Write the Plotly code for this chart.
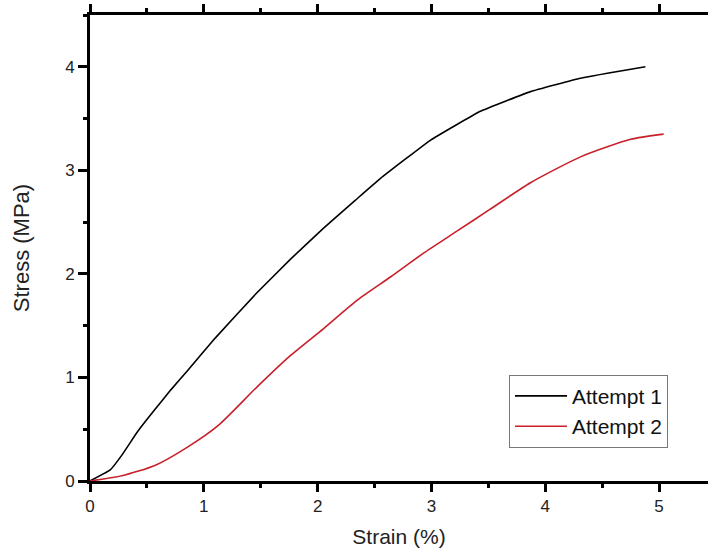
import plotly.graph_objects as go

# Attempt 1 (black)
strain1 = [0.0, 0.18, 0.28, 0.42, 0.57, 0.71, 0.86, 1.1, 1.46, 1.76, 2.05, 2.33, 2.55, 2.99, 3.43, 3.87, 4.31, 4.88]
stress1 = [0.0, 0.11, 0.25, 0.48, 0.69, 0.88, 1.07, 1.38, 1.81, 2.14, 2.44, 2.71, 2.92, 3.29, 3.57, 3.76, 3.89, 4.0]

# Attempt 2 (red)
strain2 = [0.0, 0.28, 0.57, 0.86, 1.13, 1.46, 1.76, 2.05, 2.34, 2.64, 2.93, 3.22, 3.51, 3.87, 4.31, 4.75, 5.04]
stress2 = [0.0, 0.05, 0.15, 0.33, 0.54, 0.90, 1.21, 1.47, 1.74, 1.97, 2.20, 2.41, 2.62, 2.88, 3.13, 3.30, 3.35]

series_names = ["Attempt 1", "Attempt 2"]
x_ticks = [0, 1, 2, 3, 4, 5]
y_ticks = [0, 1, 2, 3, 4]

fig = go.Figure()
fig.add_trace(go.Scatter(x=strain1, y=stress1, mode="lines", name=series_names[0],
                         line=dict(color="black", width=1.6, shape="spline", smoothing=0.3)))
fig.add_trace(go.Scatter(x=strain2, y=stress2, mode="lines", name=series_names[1],
                         line=dict(color="#c8202a", width=1.6, shape="spline", smoothing=0.6)))

font_family = "Liberation Sans, Arial, sans-serif"

fig.update_layout(
    width=708, height=556,
    margin=dict(l=90, r=0, t=15, b=75),
    plot_bgcolor="white", paper_bgcolor="white",
    font=dict(family=font_family, color="#222", size=17),
    showlegend=True,
    legend=dict(x=0.678, y=0.228, xanchor="left", yanchor="top",
                bordercolor="#777", borderwidth=1, bgcolor="white",
                font=dict(size=21, color="#111"), tracegroupgap=0,
                itemwidth=52),
    xaxis=dict(
        range=[0, 5.43], tickvals=x_ticks, ticktext=[str(v) for v in x_ticks],
        showgrid=False, zeroline=False,
        showline=True, linecolor="black", linewidth=3, mirror="ticks",
        ticks="outside", ticklen=8, tickwidth=3, tickcolor="black",
        minor=dict(dtick=0.5, tick0=0, ticks="outside", ticklen=4, tickwidth=3, tickcolor="black"),
        title=dict(text="Strain (%)", font=dict(size=21), standoff=14),
        tickfont=dict(size=17),
    ),
    yaxis=dict(
        range=[0, 4.5], tickvals=y_ticks, ticktext=[str(v) for v in y_ticks],
        showgrid=False, zeroline=False,
        showline=True, linecolor="black", linewidth=3,
        ticks="outside", ticklen=9, tickwidth=3, tickcolor="black",
        minor=dict(dtick=0.5, tick0=0, ticks="outside", ticklen=4, tickwidth=3, tickcolor="black"),
        title=dict(text="Stress (MPa)", font=dict(size=22), standoff=30),
        tickfont=dict(size=17),
    ),
)

fig.write_html("out.html")
